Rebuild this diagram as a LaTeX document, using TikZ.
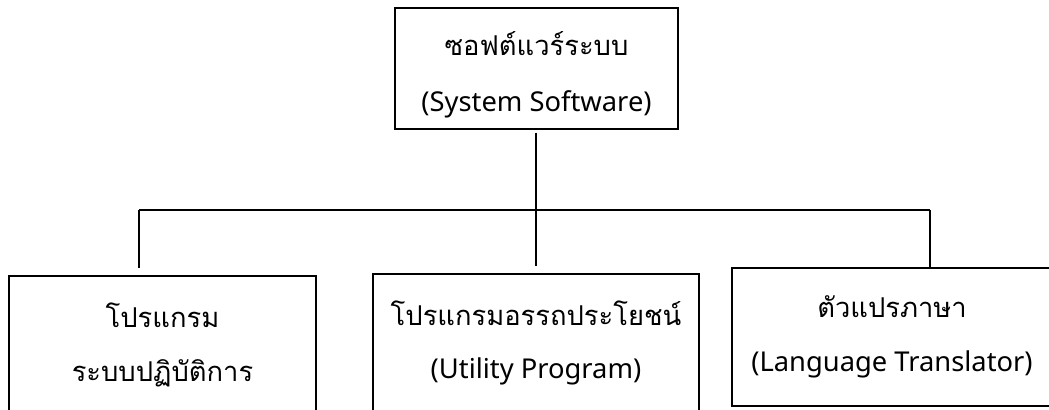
\documentclass[tikz,border=0pt]{standalone}
\usepackage{fontspec}
\setmainfont{Noto Sans}
\newfontfamily\thaifont[Script=Thai]{Loma}
\begin{document}
\begin{tikzpicture}[x=0.75pt,y=-0.75pt,
  box/.style={draw,line width=1.5pt,inner sep=0pt,align=center,
    font=\fontsize{20.5}{40}\selectfont},
  conn/.style={line width=1.5pt}]
\useasboundingbox (0,0) rectangle (1049,410);
\clip (0,0) rectangle (1049,410);
\node[box,minimum width=212.25pt,minimum height=90.75pt,
  font=\fontsize{20.5}{42}\selectfont] (sys) at (536.5,68.5)
  {{\rule{0pt}{28pt}\thaifont ซอฟต์แวร์ระบบ}\\(System Software)};
\node[box,minimum width=230.25pt,minimum height=103.5pt] (os) at (162.5,345)
  {{\thaifont โปรแกรม}\\{\thaifont ระบบปฏิบัติการ}};
\node[box,minimum width=244.5pt,minimum height=103.5pt] (util) at (536,343)
  {{\thaifont โปรแกรมอรรถประโยชน์}\\(Utility Program)};
\node[box,minimum width=240pt,minimum height=103.5pt] (lang) at (892,337)
  {{\thaifont ตัวแปรภาษา}\\(Language Translator)};
\coordinate (busM) at (536,210);
\coordinate (busL) at (139,210);
\coordinate (busR) at (930,210);
\draw[conn,shorten <=2pt] (sys.south -| busM) -- (busM);
\draw[conn] (busL) -- (busR);
\draw[conn,shorten >=5pt] (busL) -- (busL |- os.north);
\draw[conn,shorten >=5pt] (busM) -- (busM |- util.north);
\draw[conn] (busR) -- (busR |- lang.north);
\end{tikzpicture}
\end{document}
